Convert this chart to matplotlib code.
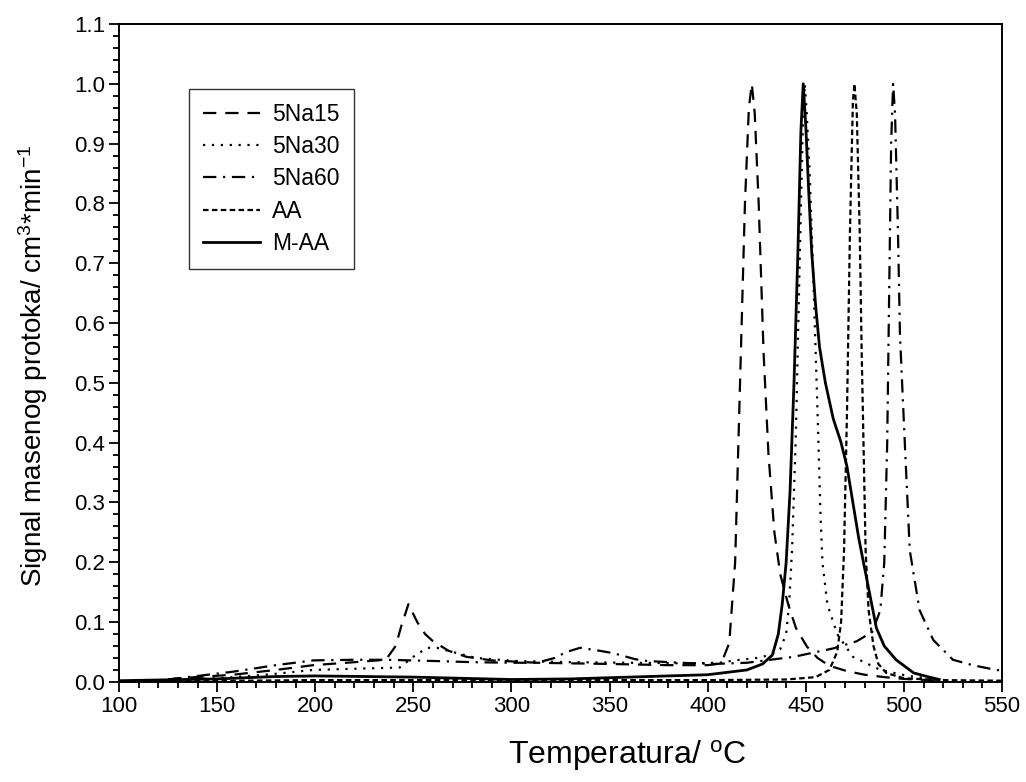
import matplotlib
matplotlib.use("Agg")
import matplotlib.pyplot as plt
from matplotlib.ticker import MultipleLocator, FormatStrFormatter

plt.rcParams["font.family"] = ["Liberation Sans", "DejaVu Sans"]
plt.rcParams["mathtext.default"] = "regular"

# TPD profiles (temperature in °C, normalised signal)
t_5na15 = [125, 130, 158, 180, 199, 220, 236, 241, 244, 247.5, 252, 256, 260, 268, 277, 290,
           313, 350, 380, 400, 405, 408, 411, 414, 416.5, 419, 421, 422.5, 424, 426, 428.5,
           431, 434, 437, 441, 445, 450.6, 456, 462, 471, 480, 490, 500, 520]
y_5na15 = [0.004, 0.006, 0.012, 0.02, 0.028, 0.033, 0.037, 0.06, 0.095, 0.13, 0.1, 0.08,
           0.068, 0.052, 0.042, 0.036, 0.032, 0.03, 0.028, 0.028, 0.03, 0.04, 0.065, 0.2,
           0.5, 0.8, 0.96, 1.0, 0.95, 0.8, 0.55, 0.38, 0.25, 0.18, 0.13, 0.09, 0.059, 0.04,
           0.027, 0.018, 0.012, 0.008, 0.005, 0.002]

t_5na30 = [125, 150, 175, 199, 220, 243, 250, 257, 262, 270, 282, 302, 330, 360, 390, 406,
           414, 425, 432, 437, 440, 441.5, 443, 445, 447, 448.5, 449.5, 450.5, 452, 454,
           456, 457.5, 458.5, 461, 466, 474, 488, 502, 515]
y_5na30 = [0.003, 0.006, 0.012, 0.02, 0.022, 0.024, 0.042, 0.057, 0.057, 0.05, 0.04, 0.035,
           0.033, 0.032, 0.031, 0.032, 0.036, 0.04, 0.045, 0.055, 0.08, 0.13, 0.22, 0.42,
           0.72, 0.93, 1.0, 0.95, 0.85, 0.66, 0.45, 0.28, 0.2, 0.13, 0.08, 0.042, 0.02,
           0.01, 0.005]

t_5na60 = [125, 158, 180, 199, 220, 236, 260, 280, 300, 313, 322, 328, 335, 345, 352, 363,
           369, 386, 403, 420, 444, 464, 476, 484, 488, 490, 491.5, 492.5, 493.5, 494.5,
           495.5, 497, 498, 500.6, 503, 508, 515, 525, 535, 547, 550]
y_5na60 = [0.004, 0.017, 0.028, 0.036, 0.037, 0.037, 0.035, 0.033, 0.032, 0.032, 0.04,
           0.05, 0.057, 0.052, 0.048, 0.038, 0.035, 0.032, 0.03, 0.032, 0.042, 0.056,
           0.068, 0.084, 0.12, 0.2, 0.4, 0.65, 0.9, 1.0, 0.95, 0.75, 0.58, 0.39, 0.22,
           0.12, 0.07, 0.037, 0.028, 0.02, 0.019]

t_aa = [125, 200, 300, 400, 440, 455, 462, 466, 468, 469.5, 471, 472.5, 474, 474.8, 476,
        477.5, 478.5, 480.5, 482, 484.5, 487, 491, 500, 520, 550]
y_aa = [0.001, 0.003, 0.003, 0.003, 0.004, 0.008, 0.02, 0.05, 0.1, 0.22, 0.45, 0.75, 0.97,
        1.0, 0.95, 0.75, 0.55, 0.22, 0.12, 0.06, 0.03, 0.015, 0.006, 0.003, 0.002]

t_maa = [100, 150, 180, 200, 250, 300, 330, 360, 400, 420, 428, 433, 436, 438, 440, 442,
         444, 446, 447.5, 448.7, 450, 451.5, 453, 455, 457, 460, 464, 468, 471, 474, 477,
         480, 483, 486, 490, 496, 505, 513, 518]
y_maa = [0.002, 0.005, 0.009, 0.01, 0.008, 0.004, 0.005, 0.008, 0.012, 0.02, 0.03, 0.045,
         0.08, 0.13, 0.2, 0.32, 0.5, 0.72, 0.92, 1.0, 0.93, 0.82, 0.72, 0.63, 0.56, 0.5,
         0.44, 0.4, 0.36, 0.3, 0.24, 0.19, 0.14, 0.09, 0.06, 0.037, 0.015, 0.008, 0.004]

labels = ["5Na15", "5Na30", "5Na60", "AA", "M-AA"]

fig = plt.figure(figsize=(10.26, 7.82), dpi=100)
ax = fig.add_axes([0.116, 0.128, 0.8606, 0.8413])

lw = 1.6
ax.plot(t_5na15, y_5na15, color="black", lw=lw, ls=(0, (6, 4)), label=labels[0])
ax.plot(t_5na30, y_5na30, color="black", lw=lw, ls=(0, (1, 3)), label=labels[1])
ax.plot(t_5na60, y_5na60, color="black", lw=lw, ls=(0, (6, 3, 1, 3)), label=labels[2])
ax.plot(t_aa, y_aa, color="black", lw=lw, ls=(0, (2.5, 1.5)), label=labels[3])
ax.plot(t_maa, y_maa, color="black", lw=2.0, ls="-", label=labels[4])

ax.set_xlim(100, 550)
ax.set_ylim(0, 1.1)
ax.xaxis.set_major_locator(MultipleLocator(50))
ax.xaxis.set_minor_locator(MultipleLocator(10))
ax.yaxis.set_major_locator(MultipleLocator(0.1))
ax.yaxis.set_minor_locator(MultipleLocator(0.02))
ax.yaxis.set_major_formatter(FormatStrFormatter("%.1f"))

ax.tick_params(which="both", direction="out", top=False, right=False, width=1.3,
               labelsize=16, colors="black")
ax.tick_params(which="major", length=7, pad=3)
ax.tick_params(which="minor", length=4)
for s in ax.spines.values():
    s.set_linewidth(1.4)

ax.set_xlabel("Temperatura/ $^{o}$C", fontsize=23)
ax.xaxis.set_label_coords(0.575, -0.086)
ax.set_ylabel("Signal masenog protoka/ cm$^{3}$*min$^{-1}$", fontsize=20)
ax.yaxis.set_label_coords(-0.078, 0.48)

leg = ax.legend(loc="upper left", bbox_to_anchor=(0.066, 0.918), fontsize=16.5,
                frameon=True, fancybox=False, edgecolor="black", handlelength=2.5,
                handletextpad=0.55, labelspacing=0.4, borderpad=0.6)
leg.get_frame().set_linewidth(1.0)

fig.savefig("out.png", dpi=100)
